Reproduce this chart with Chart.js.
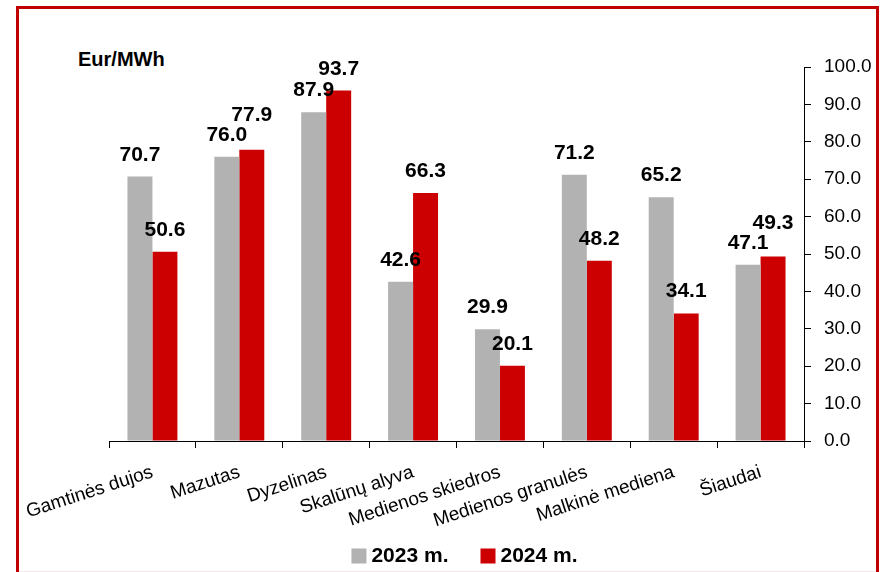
<!DOCTYPE html>
<html>
<head>
<meta charset="utf-8">
<script src="https://cdn.jsdelivr.net/npm/chart.js@4/dist/chart.umd.min.js"></script>
<style>
  body { margin: 0; background: #fff; }
  #wrap { position: relative; width: 883px; height: 572px; overflow: hidden; }
  #frame { position: absolute; left: 16px; top: 6px; width: 857px; height: 600px; border: 3px solid #c00000; }
  #base { position: absolute; left: 19px; top: 571px; width: 857px; height: 1px; background: #f1e6e9; }
  #unit { position: absolute; left: 78px; top: 48px; font: bold 20px "Liberation Sans", Arial, sans-serif; }
  canvas { position: absolute; left: 0; top: 0; }
</style>
</head>
<body>
<div id="wrap">
  <div id="frame"></div>
  <div id="base"></div>
  <div id="unit">Eur/MWh</div>
  <canvas id="myChart" width="883" height="572"></canvas>
</div>
<script>
const categories = ["Gamtinės dujos", "Mazutas", "Dyzelinas", "Skalūnų alyva",
  "Medienos skiedros", "Medienos granulės", "Malkinė mediena", "Šiaudai"];
const values2023 = [70.7, 76.0, 87.9, 42.6, 29.9, 71.2, 65.2, 47.1];
const values2024 = [50.6, 77.9, 93.7, 66.3, 20.1, 48.2, 34.1, 49.3];

const sans = '"Liberation Sans", Arial, sans-serif';

// value labels above each bar, second label pushed up if it would overlap the first
const barLabels = {
  id: "barLabels",
  afterDatasetsDraw(chart) {
    const ctx = chart.ctx;
    ctx.save();
    ctx.font = "bold 21px " + sans;
    ctx.fillStyle = "#000";
    ctx.textAlign = "center";
    ctx.textBaseline = "alphabetic";
    const textH = 16;
    const m0 = chart.getDatasetMeta(0).data;
    const m1 = chart.getDatasetMeta(1).data;
    m0.forEach((bar0, j) => {
      const bar1 = m1[j];
      const t0 = values2023[j].toFixed(1);
      const t1 = values2024[j].toFixed(1);
      const y0 = bar0.y - 16;
      let y1 = bar1.y - 16;
      const w0 = ctx.measureText(t0).width;
      const w1 = ctx.measureText(t1).width;
      const overlapX = Math.abs(bar1.x - bar0.x) < (w0 + w1) / 2;
      const overlapY = Math.abs(y1 - y0) < textH + 3;
      if (overlapX && overlapY) {
        if (y1 <= y0) y1 = y0 - textH - 4;
      }
      ctx.fillText(t0, bar0.x, y0);
      ctx.fillText(t1, bar1.x, y1);
    });
    ctx.restore();
  }
};

// legend drawn under the axis labels
const bottomLegend = {
  id: "bottomLegend",
  afterDraw(chart) {
    const ctx = chart.ctx;
    const area = chart.chartArea;
    ctx.save();
    ctx.font = "bold 21px " + sans;
    ctx.textBaseline = "middle";
    ctx.textAlign = "left";
    const box = 15, gap = 5, between = 32;
    const items = chart.data.datasets.map((ds) => ({
      text: ds.label, color: ds.backgroundColor, w: box + gap + ctx.measureText(ds.label).width
    }));
    const total = items.reduce((s, it) => s + it.w, 0) + between * (items.length - 1);
    let x = (area.left + area.right) / 2 + 8 - total / 2;
    const y = 556;
    items.forEach((it) => {
      ctx.fillStyle = it.color;
      ctx.fillRect(x, y - box / 2, box, box);
      ctx.fillStyle = "#000";
      ctx.fillText(it.text, x + box + gap, y);
      x += it.w + between;
    });
    ctx.restore();
  }
};

const data = {
  labels: categories,
  datasets: [
    { label: "2023 m.", data: values2023, backgroundColor: "#b2b2b2" },
    { label: "2024 m.", data: values2024, backgroundColor: "#cc0000" }
  ]
};

const options = {
  responsive: false,
  animation: false,
  layout: { padding: { left: 109, top: 67, right: 5, bottom: 0 } },
  datasets: { bar: { barPercentage: 1, categoryPercentage: 0.575 } },
  plugins: {
    tooltip: { enabled: false },
    legend: { display: false }
  },
  scales: {
    x: {
      grid: { offset: true, drawOnChartArea: false, tickLength: 7, color: "#000" },
      border: { color: "#000" },
      ticks: {
        color: "#000",
        font: { family: sans, size: 19 },
        minRotation: 18,
        maxRotation: 18,
        padding: 13
      },
      afterFit(scale) { scale.height = 131; }
    },
    y: {
      position: "right",
      min: 0,
      max: 100,
      grid: { drawOnChartArea: false, tickLength: 7, color: "#000" },
      border: { color: "#000" },
      ticks: {
        stepSize: 10,
        color: "#000",
        font: { family: sans, size: 19 },
        padding: 13,
        callback: (v) => v.toFixed(1)
      },
      afterFit(scale) { scale.width = 74; }
    }
  }
};

const ctx = document.querySelector("#myChart").getContext("2d");
new Chart(ctx, { type: "bar", data: data, options: options, plugins: [barLabels, bottomLegend] });
</script>
</body>
</html>
